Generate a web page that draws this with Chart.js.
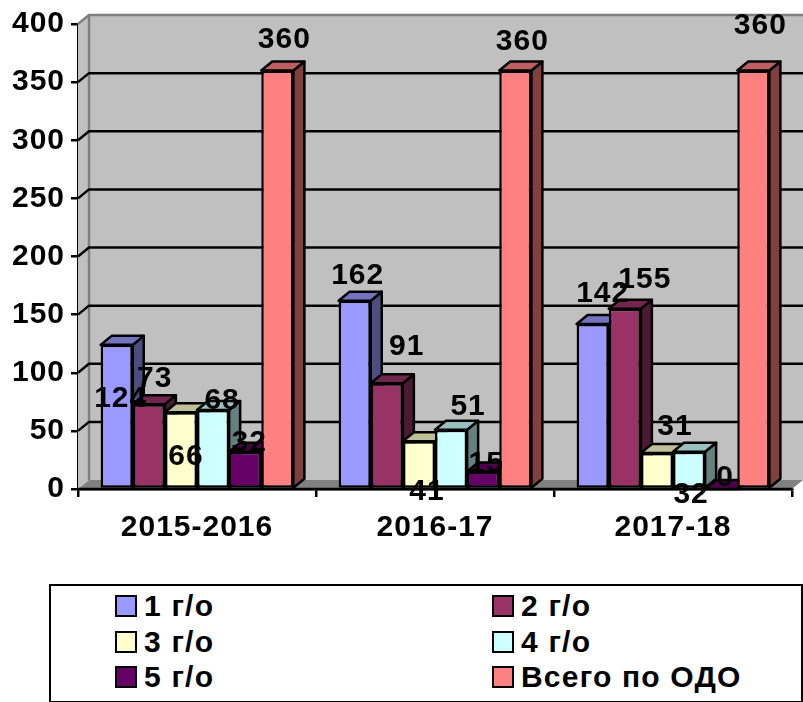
<!DOCTYPE html>
<html>
<head>
<meta charset="utf-8">
<title>Chart</title>
<script src="https://cdn.jsdelivr.net/npm/chart.js@4"></script>
<style>
  html, body { margin: 0; padding: 0; background: #fff; }
  #wrap { position: relative; width: 803px; height: 702px; overflow: hidden; }
  #chart { position: absolute; left: 0; top: 0; }
  #legend {
    position: absolute; left: 49px; top: 584px; width: 750px; height: 115px;
    border: 2px solid #000; background: #fff;
    font: bold 30px "Liberation Sans", Arial, sans-serif; color: #000;
  }
  .item { position: absolute; display: flex; align-items: center; height: 36px; white-space: nowrap; letter-spacing: 1.2px; }
  .box { width: 18px; height: 18px; border: 2px solid #000; margin-right: 7px; }
</style>
</head>
<body>
<div id="wrap">
  <canvas id="chart" width="803" height="702"></canvas>
  <div id="legend"></div>
</div>
<script>
const categories = ['2015-2016', '2016-17', '2017-18'];
const seriesNames = ['1 г/о', '2 г/о', '3 г/о', '4 г/о', '5 г/о', 'Всего по ОДО'];
const grade1 = [124, 162, 142];
const grade2 = [73, 91, 155];
const grade3 = [66, 41, 31];
const grade4 = [68, 51, 32];
const grade5 = [32, 15, 0];
const total = [360, 360, 360];
const colors = [[153, 153, 255], [153, 51, 102], [255, 255, 204], [204, 255, 255], [102, 0, 102], [255, 128, 128]];

// the labels in the original sit wherever excel left them, offsets from the bar top
const labelOffsets = [
    [[4, 54], [3, -25], [10, -30]],
    [[6, -25], [20, -36], [20, -29]],
    [[5, 44], [8, 50], [18, -26]],
    [[9, -9], [17, -23], [2, 43]],
    [[4, -9], [3, -8], [4, -11]],
    [[7, -31], [7, -29], [7, -45]],
];

const depthX = 11;
const depthY = 9;
const fontName = '"Liberation Sans", Arial, sans-serif';

function shade(rgb, k) {
    return `rgb(${rgb.map(c => Math.round(c * k)).join(',')})`;
}

function poly(ctx, pts, fill, stroke, lw) {
    ctx.beginPath();
    pts.forEach((p, i) => i ? ctx.lineTo(p[0], p[1]) : ctx.moveTo(p[0], p[1]));
    ctx.closePath();
    ctx.fillStyle = fill;
    ctx.fill();
    if (stroke) {
        ctx.strokeStyle = stroke;
        ctx.lineWidth = lw;
        ctx.stroke();
    }
}

// walls, floor and gridlines of the fake 3d box, then bar sides and labels
const wallsPlugin = {
    id: 'walls',
    beforeDraw(chart) {
        // text in the original is a bit wider than liberation
        chart.ctx.letterSpacing = '1px';
    },
    beforeDatasetsDraw(chart) {
        const { ctx, chartArea: a, scales } = chart;
        const right = a.right + depthX;
        ctx.save();
        ctx.lineJoin = 'round';
        poly(ctx, [[a.left, a.top], [a.left + depthX, a.top - depthY], [a.left + depthX, a.bottom - depthY], [a.left, a.bottom]], '#c0c0c0');
        ctx.fillStyle = '#c0c0c0';
        ctx.fillRect(a.left + depthX, a.top - depthY, right - a.left - depthX, a.bottom - a.top);
        poly(ctx, [[a.left, a.bottom], [a.left + depthX, a.bottom - depthY], [right, a.bottom - depthY], [a.right, a.bottom]], '#808080');

        ctx.strokeStyle = '#808080';
        ctx.lineWidth = 2.5;
        ctx.beginPath();
        ctx.moveTo(a.left, a.top);
        ctx.lineTo(a.left + depthX, a.top - depthY);
        ctx.lineTo(right, a.top - depthY);
        ctx.moveTo(a.left + depthX, a.top - depthY);
        ctx.lineTo(a.left + depthX, a.bottom - depthY);
        ctx.stroke();

        ctx.strokeStyle = '#000';
        ctx.beginPath();
        scales.y.ticks.forEach((t, i) => {
            const y = scales.y.getPixelForTick(i);
            if (t.value === 0 || t.value === 400) return;
            ctx.moveTo(a.left, y);
            ctx.lineTo(a.left + depthX, y - depthY);
            ctx.lineTo(right, y - depthY);
        });
        ctx.moveTo(a.left, a.bottom);
        ctx.lineTo(a.right, a.bottom);
        ctx.stroke();

        // sides and tops left to right, the front faces then cover what they should
        chart.data.datasets.forEach((ds, i) => {
            chart.getDatasetMeta(i).data.forEach(bar => {
                const l = bar.x - bar.width / 2;
                const r = bar.x + bar.width / 2;
                const t = bar.y;
                const b = bar.base;
                poly(ctx, [[r, t], [r + depthX, t - depthY], [r + depthX, b - depthY], [r, b]], shade(colors[i], 0.5), '#000', 2.5);
                poly(ctx, [[l, t], [l + depthX, t - depthY], [r + depthX, t - depthY], [r, t]], shade(colors[i], 0.75), '#000', 2.5);
            });
        });
        ctx.restore();
    },
    afterDatasetsDraw(chart) {
        const { ctx } = chart;
        ctx.save();
        ctx.font = `bold 30px ${fontName}`;
        ctx.fillStyle = '#000';
        ctx.textAlign = 'center';
        ctx.textBaseline = 'middle';
        chart.data.datasets.forEach((ds, i) => {
            chart.getDatasetMeta(i).data.forEach((bar, j) => {
                const off = labelOffsets[i][j];
                ctx.fillText(String(ds.data[j]), bar.x + off[0], bar.y + off[1]);
            });
        });
        ctx.restore();
    },
};

const seriesValues = [grade1, grade2, grade3, grade4, grade5, total];

const chart = new Chart(document.getElementById('chart'), {
    type: 'bar',
    data: {
        labels: categories,
        datasets: seriesNames.map((name, i) => ({
            label: name,
            data: seriesValues[i],
            backgroundColor: shade(colors[i], 1),
            borderColor: '#000',
            borderWidth: 2.5,
            borderSkipped: false,
        })),
    },
    options: {
        responsive: false,
        animation: false,
        layout: { padding: { top: 23.5, right: 11, left: 0, bottom: 0 } },
        plugins: { legend: { display: false }, tooltip: { enabled: false } },
        datasets: { bar: { categoryPercentage: 0.81, barPercentage: 1 } },
        scales: {
            x: {
                afterFit: s => { s.height = 213; },
                border: { color: '#000', width: 2.5 },
                grid: { drawOnChartArea: false, color: '#000', lineWidth: 2.5, tickLength: 8 },
                ticks: { color: '#000', font: { family: fontName, size: 30, weight: 'bold' }, padding: 13, maxRotation: 0 },
            },
            y: {
                min: 0,
                max: 400,
                afterFit: s => { s.width = 78; },
                border: { color: '#000', width: 2.5 },
                grid: { drawOnChartArea: false, color: '#000', lineWidth: 2.5, tickLength: 7 },
                ticks: { color: '#000', stepSize: 50, font: { family: fontName, size: 30, weight: 'bold' }, padding: 6 },
            },
        },
    },
    plugins: [wallsPlugin],
});

// legend is two columns in a frame, chart.js can't lay that out so it's html
const legendDiv = document.getElementById('legend');
chart.data.datasets.forEach((ds, i) => {
    const item = document.createElement('div');
    item.className = 'item';
    item.style.left = (i % 2 ? 441 : 64) + 'px';
    item.style.top = (2 + 35.5 * Math.floor(i / 2)) + 'px';
    const box = document.createElement('span');
    box.className = 'box';
    box.style.background = ds.backgroundColor;
    item.appendChild(box);
    item.appendChild(document.createTextNode(ds.label));
    legendDiv.appendChild(item);
});
</script>
</body>
</html>
